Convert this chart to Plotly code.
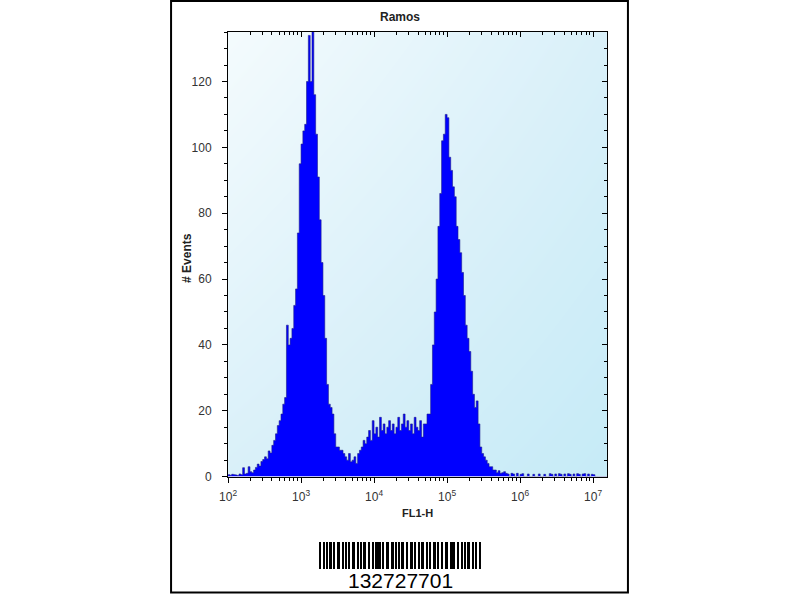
import numpy as np
import plotly.graph_objects as go

# histogram of FL1-H, bins of 0.025 decades starting at 10^2
bin_start = 2.0
bin_width = 0.025

low_tail = [0.6, 0.4, 0.7, 0.6, 0.5, 0.3, 0.8, 0.6,
            2.7, 0.8, 1.0, 3.0, 1.5, 1.2, 2.0, 2.8,
            3.8, 3.2, 4.6, 5.2, 6.0, 5.4, 7.8, 7.2,
            9.5, 11, 13, 15.5, 17, 19, 22, 24]
peak1 = [46, 40, 42, 45, 52, 57, 74, 95,
         101, 105, 107, 120, 134, 120, 138, 116,
         104, 91, 78, 65, 55, 42, 28, 22,
         21, 19, 13, 9]
valley = [9, 8, 8, 7, 6, 5, 7, 4.5, 5, 6, 4, 7,
          8, 9, 11, 10, 12, 14, 11, 17, 13, 15, 12, 18,
          14, 16, 13, 15, 17, 14, 16, 13, 15, 18, 14, 16,
          19, 15, 17, 14, 16, 13, 18, 15, 14, 17, 12, 16,
          16, 19, 19, 28]
peak2 = [40, 50, 60, 76, 86, 102, 104, 110,
         109, 97, 93, 88, 85, 76, 72, 68,
         62, 55, 46, 42, 38, 32, 25, 21,
         23, 16, 9, 7, 6, 5, 4, 3]
high_tail = [3, 2, 2, 1.2, 1.8, 1, 1.2, 1.5,
             1, 0.8, 0, 1, 0.8, 0, 1, 0,
             0.7, 0.9, 0, 0, 0.8, 0, 0, 0.7,
             0, 0, 0.8, 0, 0, 0.7, 0, 0,
             0.9, 0.7, 0, 0.8, 0, 0.9, 0.7, 0,
             0.8, 0, 0.9, 0.7, 0, 0.8, 0, 0.9,
             0.7, 0, 0.8, 0.9, 0, 0.8, 0, 0.7,
             0.6, 0, 0, 0, 0, 0, 0, 0]

counts = low_tail + peak1 + valley + peak2 + high_tail

y_ticks = [0, 20, 40, 60, 80, 100, 120]
x_ticks = [1e2, 1e3, 1e4, 1e5, 1e6, 1e7]
x_labels = ["10<sup>2</sup>", "10<sup>3</sup>", "10<sup>4</sup>",
            "10<sup>5</sup>", "10<sup>6</sup>", "10<sup>7</sup>"]

barcode_text = "132727701"
bar_widths = [2, 1, 1, 3, 1, 3, 1, 2, 1, 3, 1, 1, 3, 2, 1, 3, 1, 1, 3, 2, 1, 1,
              3, 1, 3, 2, 1, 3, 1, 1, 3, 2, 1, 3, 1, 3, 1, 2, 1, 3, 1, 2, 2]
gap_widths = [2, 2, 1, 2, 2, 2, 1, 2, 2, 2, 2, 1, 2, 2, 2, 1, 2, 2, 2, 2, 2,
              1, 2, 2, 1, 2, 2, 2, 2, 2, 1, 2, 2, 2, 1, 2, 2, 2, 1, 2, 1, 2]

edges = 10 ** (bin_start + bin_width * np.arange(len(counts) + 1))
step_y = counts + [counts[-1]]

# barcode positions
bar_x, pos = [], 0
for i, w in enumerate(bar_widths):
    bar_x.append(pos + w / 2)
    pos += w + (gap_widths[i] if i < len(gap_widths) else 0)
bar_total = pos


# page pixel -> paper fraction (small correction for how the page gets photographed)
def px(p):
    return min(max((p - 8.9) / 0.989 / 800, 0), 1)


def py(p):
    return min(max(1 - (p / 0.985) / 600, 0), 1)


font = "Liberation Sans, Arial, sans-serif"
tick_col = "#333333"

fig = go.Figure()

# plot background gradient
fig.add_trace(go.Heatmap(
    x=[0, 1], y=[0, 1], z=[[0.6, 1.0], [0.0, 0.6]],
    zsmooth="best", showscale=False, hoverinfo="skip",
    colorscale=[[0, "#f4fbfd"], [0.6, "#d9f0f9"], [1, "#c6ebf7"]],
    xaxis="x", yaxis="y"))

fig.add_trace(go.Scatter(
    x=edges, y=step_y, mode="lines", line_shape="hv",
    fill="tozeroy", fillcolor="#0000ff",
    line=dict(color="#1c1c8c", width=0.6),
    hoverinfo="skip", showlegend=False, xaxis="x2", yaxis="y2"))

# dummy trace for the mirrored top/right axes
fig.add_trace(go.Scatter(x=[1e3], y=[-10], mode="markers", marker=dict(size=1, opacity=0),
                         hoverinfo="skip", showlegend=False, xaxis="x3", yaxis="y3"))

fig.add_trace(go.Bar(
    x=bar_x, y=[1] * len(bar_x), width=bar_widths,
    marker=dict(color="black", line_width=0),
    hoverinfo="skip", showlegend=False, xaxis="x4", yaxis="y4"))

dom_x = [px(228), px(607)]
dom_y = [py(475), py(32)]
xr = [2, 7.19]
yr = [0, 135]

fig.update_layout(
    width=800, height=600,
    margin=dict(l=0, r=0, t=0, b=0),
    paper_bgcolor="white",
    plot_bgcolor="rgba(0,0,0,0)",
    showlegend=False,
    bargap=0,
    xaxis=dict(domain=dom_x, range=[0, 1], visible=False, fixedrange=True),
    yaxis=dict(domain=dom_y, range=[0, 1], visible=False, fixedrange=True),
    xaxis2=dict(overlaying="x", anchor="y2", side="bottom", type="log", range=xr,
                showline=True, linecolor="black", linewidth=1, showgrid=False, zeroline=False,
                ticks="outside", ticklen=5, tickcolor="black",
                tickvals=x_ticks, ticktext=x_labels, ticklabelstandoff=4,
                tickfont=dict(family=font, size=12, color=tick_col),
                minor=dict(ticks="outside", ticklen=3, tickcolor="black", dtick="D1", showgrid=False)),
    yaxis2=dict(overlaying="y", anchor="x2", side="left", range=yr,
                showline=True, linecolor="black", linewidth=1, showgrid=False, zeroline=False,
                ticks="outside", ticklen=5, tickcolor="black",
                tickvals=y_ticks, ticklabelstandoff=8,
                tickfont=dict(family=font, size=12, color=tick_col),
                minor=dict(ticks="outside", ticklen=3, tickcolor="black", dtick=5, showgrid=False)),
    xaxis3=dict(overlaying="x", anchor="y3", side="top", type="log", range=xr,
                showline=True, linecolor="black", linewidth=1, showgrid=False, zeroline=False,
                ticks="inside", ticklen=5, tickcolor="black", tickvals=x_ticks,
                showticklabels=False,
                minor=dict(ticks="inside", ticklen=3, tickcolor="black", dtick="D1", showgrid=False)),
    yaxis3=dict(overlaying="y", anchor="x3", side="right", range=yr,
                showline=True, linecolor="black", linewidth=1, showgrid=False, zeroline=False,
                ticks="inside", ticklen=5, tickcolor="black", tickvals=y_ticks,
                showticklabels=False,
                minor=dict(ticks="inside", ticklen=3, tickcolor="black", dtick=5, showgrid=False)),
    xaxis4=dict(domain=[px(319), px(481)], range=[0, bar_total], anchor="y4", visible=False),
    yaxis4=dict(domain=[py(567), py(540)], range=[0, 1], anchor="x4", visible=False),
    shapes=[dict(type="rect", xref="paper", yref="paper",
                 x0=px(171), x1=px(628), y0=0.5 / 600, y1=py(1),
                 line=dict(color="black", width=2))],
    annotations=[
        dict(text="<b>Ramos</b>", x=px(400), y=py(17), xref="paper", yref="paper",
             xanchor="center", yanchor="middle",
             showarrow=False, font=dict(family=font, size=12, color="#222222")),
        dict(text="<b>FL1-H</b>", x=px(417.5), y=py(511), xref="paper", yref="paper",
             xanchor="center", yanchor="middle",
             showarrow=False, font=dict(family=font, size=11, color="#222222")),
        dict(text="<b># Events</b>", x=px(187), y=py(257), xref="paper", yref="paper",
             xanchor="center", yanchor="middle",
             showarrow=False, textangle=-90, font=dict(family=font, size=12, color="#222222")),
        dict(text=barcode_text, x=px(400), y=py(579), xref="paper", yref="paper",
             xanchor="center", yanchor="middle",
             showarrow=False, font=dict(family=font, size=21, color="black")),
    ],
)

fig.write_html("out.html", config={"displayModeBar": False},
               post_script="document.body.style.margin='0px';document.body.style.overflow='hidden';")
